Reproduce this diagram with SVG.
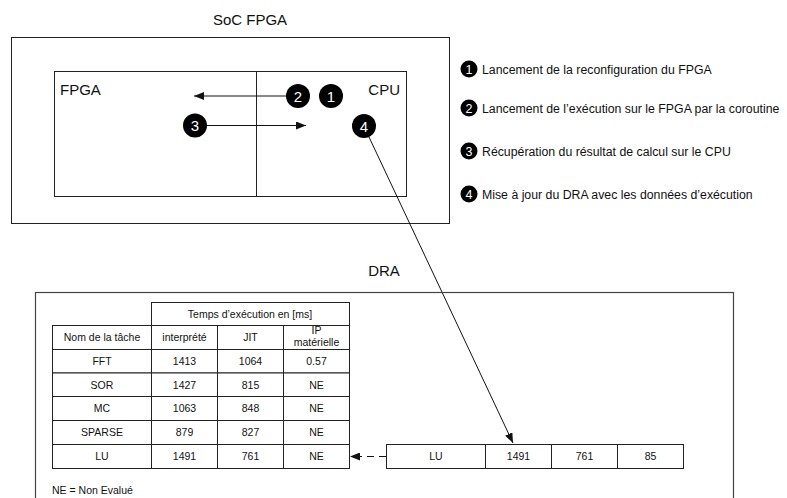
<svg xmlns="http://www.w3.org/2000/svg" width="787" height="498" viewBox="0 0 787 498">
<defs>
<style>
text{font-family:"Liberation Sans",Arial,Helvetica,sans-serif;fill:#111}
.box{fill:none;stroke:#222;stroke-width:1}
.cell{fill:#fff;stroke:#222;stroke-width:1}
.t{font-size:10.5px;text-anchor:middle}
.lbl{font-size:15px}
.num{font-size:15px;fill:#fff;text-anchor:middle}
.lnum{font-size:12.5px;fill:#fff;text-anchor:middle}
.leg{font-size:12.3px}
.con{stroke:#111;stroke-width:1;fill:none}
</style>
<marker id="ah" viewBox="0 0 10 8" refX="10" refY="4" markerWidth="10" markerHeight="8" markerUnits="userSpaceOnUse" orient="auto">
<path d="M0,0 L10,4 L0,8 Z" fill="#111"/>
</marker>
</defs>
<rect width="787" height="498" fill="#fff"/>

<g id="soc">
<text x="250" y="25" class="lbl" text-anchor="middle">SoC FPGA</text>
<rect x="11.5" y="37.5" width="438" height="186" class="box"/>
</g>
<g id="fpga">
<rect x="54.5" y="71.5" width="202" height="125" class="box"/>
<text x="60" y="95" class="lbl">FPGA</text>
</g>
<g id="cpu">
<rect x="256.5" y="71.5" width="150" height="125" class="box"/>
<text x="400" y="95" class="lbl" text-anchor="end">CPU</text>
</g>

<g id="connectors">
<line x1="286" y1="96" x2="194" y2="96" class="con" marker-end="url(#ah)"/>
<line x1="207" y1="125.5" x2="306" y2="125.5" class="con" marker-end="url(#ah)"/>
<line x1="369" y1="137" x2="513" y2="443" class="con" marker-end="url(#ah)"/>
<line x1="386" y1="456.5" x2="350" y2="456.5" class="con" stroke-dasharray="7,5" marker-end="url(#ah)"/>
</g>

<g id="step1">
<circle cx="331" cy="96" r="12" fill="#000"/>
<text x="331" y="101.5" class="num">1</text>
</g>
<g id="step2">
<circle cx="298" cy="96" r="12" fill="#000"/>
<text x="298" y="101.5" class="num">2</text>
</g>
<g id="step3">
<circle cx="195" cy="125.5" r="12" fill="#000"/>
<text x="195" y="131" class="num">3</text>
</g>
<g id="step4">
<circle cx="364" cy="126" r="12" fill="#000"/>
<text x="364" y="131.5" class="num">4</text>
</g>

<g id="legend">
<circle cx="469" cy="69" r="8.5" fill="#000"/>
<text x="469" y="73.5" class="lnum">1</text>
<text x="482" y="73.5" class="leg">Lancement de la reconfiguration du FPGA</text>
<circle cx="469" cy="108" r="8.5" fill="#000"/>
<text x="469" y="112.5" class="lnum">2</text>
<text x="482" y="112.5" class="leg">Lancement de l’exécution sur le FPGA par la coroutine</text>
<circle cx="469" cy="151" r="8.5" fill="#000"/>
<text x="469" y="155.5" class="lnum">3</text>
<text x="482" y="155.5" class="leg">Récupération du résultat de calcul sur le CPU</text>
<circle cx="469" cy="194" r="8.5" fill="#000"/>
<text x="469" y="198.5" class="lnum">4</text>
<text x="482" y="198.5" class="leg">Mise à jour du DRA avec les données d’exécution</text>
</g>

<g id="dra">
<text x="384" y="276" class="lbl" text-anchor="middle">DRA</text>
<rect x="35.5" y="292.5" width="698" height="215" fill="none" stroke="#444" stroke-width="1.2"/>
<text x="52" y="494" style="font-size:10.5px">NE = Non Evalué</text>
</g>

<g id="table">
<rect x="151.5" y="302.5" width="198" height="23" class="cell"/>
<text x="250" y="318" class="t">Temps d’exécution en [ms]</text>
<rect x="52.5" y="325.5" width="99" height="24" class="cell"/>
<rect x="151.5" y="325.5" width="66" height="24" class="cell"/>
<rect x="217.5" y="325.5" width="66" height="24" class="cell"/>
<rect x="283.5" y="325.5" width="66" height="24" class="cell"/>
<text x="102" y="341" class="t">Nom de la tâche</text>
<text x="184.5" y="341" class="t">interprété</text>
<text x="250.5" y="341" class="t">JIT</text>
<text x="316.5" y="334" class="t">IP</text>
<text x="316.5" y="346" class="t">matérielle</text>

<rect x="52.5" y="349.5" width="99" height="23.5" class="cell"/>
<rect x="151.5" y="349.5" width="66" height="23.5" class="cell"/>
<rect x="217.5" y="349.5" width="66" height="23.5" class="cell"/>
<rect x="283.5" y="349.5" width="66" height="23.5" class="cell"/>
<text x="102" y="365" class="t">FFT</text>
<text x="184.5" y="365" class="t">1413</text>
<text x="250.5" y="365" class="t">1064</text>
<text x="316.5" y="365" class="t">0.57</text>

<rect x="52.5" y="373" width="99" height="23.5" class="cell"/>
<rect x="151.5" y="373" width="66" height="23.5" class="cell"/>
<rect x="217.5" y="373" width="66" height="23.5" class="cell"/>
<rect x="283.5" y="373" width="66" height="23.5" class="cell"/>
<text x="102" y="388.5" class="t">SOR</text>
<text x="184.5" y="388.5" class="t">1427</text>
<text x="250.5" y="388.5" class="t">815</text>
<text x="316.5" y="388.5" class="t">NE</text>

<rect x="52.5" y="396.5" width="99" height="24" class="cell"/>
<rect x="151.5" y="396.5" width="66" height="24" class="cell"/>
<rect x="217.5" y="396.5" width="66" height="24" class="cell"/>
<rect x="283.5" y="396.5" width="66" height="24" class="cell"/>
<text x="102" y="412" class="t">MC</text>
<text x="184.5" y="412" class="t">1063</text>
<text x="250.5" y="412" class="t">848</text>
<text x="316.5" y="412" class="t">NE</text>

<rect x="52.5" y="420.5" width="99" height="24" class="cell"/>
<rect x="151.5" y="420.5" width="66" height="24" class="cell"/>
<rect x="217.5" y="420.5" width="66" height="24" class="cell"/>
<rect x="283.5" y="420.5" width="66" height="24" class="cell"/>
<text x="102" y="436" class="t">SPARSE</text>
<text x="184.5" y="436" class="t">879</text>
<text x="250.5" y="436" class="t">827</text>
<text x="316.5" y="436" class="t">NE</text>

<rect x="52.5" y="444.5" width="99" height="24" class="cell"/>
<rect x="151.5" y="444.5" width="66" height="24" class="cell"/>
<rect x="217.5" y="444.5" width="66" height="24" class="cell"/>
<rect x="283.5" y="444.5" width="66" height="24" class="cell"/>
<text x="102" y="460" class="t">LU</text>
<text x="184.5" y="460" class="t">1491</text>
<text x="250.5" y="460" class="t">761</text>
<text x="316.5" y="460" class="t">NE</text>
</g>

<g id="record">
<rect x="386.5" y="444.5" width="99" height="24" class="cell"/>
<rect x="485.5" y="444.5" width="66" height="24" class="cell"/>
<rect x="551.5" y="444.5" width="66" height="24" class="cell"/>
<rect x="617.5" y="444.5" width="66" height="24" class="cell"/>
<text x="436" y="460" class="t">LU</text>
<text x="518.5" y="460" class="t">1491</text>
<text x="584.5" y="460" class="t">761</text>
<text x="650.5" y="460" class="t">85</text>
</g>
</svg>
